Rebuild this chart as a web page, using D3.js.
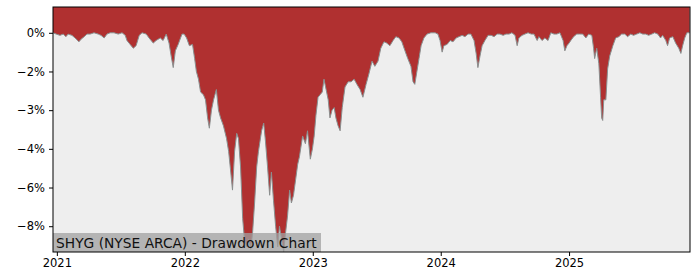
<!DOCTYPE html>
<html>
<head>
<meta charset="utf-8">
<script src="https://cdn.jsdelivr.net/npm/d3@7"></script>
<style>
  body { margin: 0; background: #fff; }
  svg { display: block; }
</style>
</head>
<body>
<svg id="chart"></svg>
<script>
// drawdown readings (date, % below previous high)
const dates = [
  "2020-12-21","2020-12-30","2021-01-10","2021-01-19","2021-01-27","2021-02-02","2021-02-13","2021-02-22",
  "2021-03-05","2021-03-11","2021-03-20","2021-03-28","2021-04-06","2021-04-17","2021-04-29","2021-05-07",
  "2021-05-16","2021-05-24","2021-06-02","2021-06-13","2021-06-25","2021-07-06","2021-07-15","2021-07-20",
  "2021-07-29","2021-08-07","2021-08-15","2021-08-24","2021-09-01","2021-09-13","2021-09-21","2021-10-03",
  "2021-10-11","2021-10-23","2021-10-31","2021-11-09","2021-11-17","2021-11-23","2021-11-29","2021-12-05",
  "2021-12-13","2021-12-24","2021-12-30",
  "2022-01-06","2022-01-14","2022-01-23","2022-01-29","2022-02-03","2022-02-09","2022-02-15","2022-02-23",
  "2022-03-01","2022-03-07","2022-03-12","2022-03-18","2022-03-24","2022-04-01","2022-04-07","2022-04-13",
  "2022-04-21","2022-04-30","2022-05-06","2022-05-12","2022-05-17","2022-05-23","2022-05-29","2022-06-03",
  "2022-06-09","2022-06-15","2022-06-20","2022-06-26","2022-07-02","2022-07-08","2022-07-13","2022-07-19",
  "2022-07-25","2022-07-30","2022-08-08","2022-08-14","2022-08-19","2022-08-25","2022-08-31","2022-09-05",
  "2022-09-11","2022-09-17","2022-09-23","2022-09-28","2022-10-04","2022-10-10","2022-10-15","2022-10-21",
  "2022-10-27","2022-11-01","2022-11-07","2022-11-13","2022-11-19","2022-11-24","2022-12-03","2022-12-11",
  "2022-12-17","2022-12-25","2022-12-31",
  "2023-01-05","2023-01-10","2023-01-16","2023-01-22","2023-01-28","2023-02-02","2023-02-08","2023-02-14",
  "2023-02-19","2023-02-25","2023-03-03","2023-03-08","2023-03-14","2023-03-20","2023-03-26","2023-04-03",
  "2023-04-12","2023-04-20","2023-04-29","2023-05-07","2023-05-16","2023-05-24","2023-06-02","2023-06-10",
  "2023-06-19","2023-06-27","2023-07-06","2023-07-14","2023-07-23","2023-07-31","2023-08-09","2023-08-18",
  "2023-08-26","2023-09-04","2023-09-12","2023-09-21","2023-09-29","2023-10-08","2023-10-14","2023-10-19",
  "2023-10-25","2023-10-31","2023-11-06","2023-11-14","2023-11-23","2023-12-04","2023-12-16","2023-12-24",
  "2023-12-30",
  "2024-01-05","2024-01-10","2024-01-19","2024-01-28","2024-02-05","2024-02-14","2024-02-22","2024-03-02",
  "2024-03-10","2024-03-19","2024-03-27","2024-04-05","2024-04-11","2024-04-16","2024-04-22","2024-04-28",
  "2024-05-06","2024-05-15","2024-05-24","2024-06-01","2024-06-10","2024-06-18","2024-06-27","2024-07-05",
  "2024-07-14","2024-07-22","2024-07-31","2024-08-06","2024-08-11","2024-08-20","2024-08-28","2024-09-06",
  "2024-09-15","2024-09-23","2024-10-02","2024-10-07","2024-10-16","2024-10-24","2024-11-02","2024-11-10",
  "2024-11-19","2024-11-27","2024-12-06","2024-12-15","2024-12-20","2024-12-26",
  "2025-01-01","2025-01-06","2025-01-14","2025-01-23","2025-01-31","2025-02-09","2025-02-18","2025-02-26",
  "2025-03-07","2025-03-12","2025-03-15","2025-03-21","2025-03-27","2025-04-01","2025-04-04","2025-04-07",
  "2025-04-10","2025-04-16","2025-04-21","2025-04-27","2025-05-06","2025-05-14","2025-05-23","2025-05-31",
  "2025-06-09","2025-06-17","2025-06-26","2025-07-04","2025-07-13","2025-07-22","2025-07-30","2025-08-08",
  "2025-08-16","2025-08-25","2025-09-02","2025-09-11","2025-09-19","2025-09-25","2025-10-04","2025-10-09",
  "2025-10-15","2025-10-24","2025-11-01","2025-11-10","2025-11-16","2025-11-21","2025-11-27","2025-12-03",
  "2025-12-11"
];
const drawdown = [
  0.0,-0.05,-0.1,-0.05,-0.15,-0.05,-0.1,-0.2,
  -0.35,-0.25,-0.15,-0.05,-0.05,0.0,-0.05,-0.1,
  -0.2,-0.05,0.0,0.0,-0.05,0.0,-0.1,-0.3,
  -0.45,-0.6,-0.5,-0.1,0.0,-0.05,-0.2,-0.4,
  -0.3,-0.2,-0.3,-0.05,-0.4,-0.9,-1.35,-0.7,
  -0.45,-0.05,-0.05,
  -0.2,-0.5,-0.45,-1.0,-1.5,-1.8,-2.3,-2.4,
  -2.6,-3.3,-3.7,-3.0,-2.6,-2.2,-3.0,-3.3,
  -3.6,-4.1,-4.6,-5.4,-6.1,-4.6,-3.9,-4.1,
  -5.2,-7.2,-8.0,-8.3,-8.0,-8.4,-7.8,-6.6,
  -5.2,-4.6,-3.8,-3.5,-4.2,-5.2,-6.3,-5.4,
  -6.5,-7.5,-8.3,-7.5,-8.0,-8.5,-7.8,-7.1,
  -6.1,-6.6,-6.3,-5.7,-5.1,-4.8,-4.0,-4.3,
  -3.8,-4.9,-4.5,
  -4.0,-3.2,-2.5,-2.4,-2.3,-1.8,-2.2,-2.6,
  -3.3,-3.0,-2.9,-3.3,-3.6,-3.8,-2.9,-2.1,
  -1.9,-1.9,-1.8,-2.0,-2.2,-2.5,-2.0,-1.6,
  -1.1,-1.3,-1.1,-0.6,-0.35,-0.4,-0.5,-0.3,
  -0.15,-0.2,-0.35,-0.7,-1.0,-1.3,-1.9,-2.0,
  -1.5,-1.0,-0.5,-0.2,-0.05,0.0,0.0,-0.05,
  -0.3,
  -0.75,-0.5,-0.45,-0.3,-0.35,-0.2,-0.15,-0.1,
  -0.15,-0.05,-0.05,-0.3,-0.8,-1.35,-0.9,-0.5,
  -0.3,-0.1,-0.1,-0.15,-0.05,-0.05,-0.1,-0.05,
  -0.05,0.0,-0.1,-0.5,-0.2,-0.1,-0.05,0.0,
  -0.05,-0.05,-0.3,-0.15,-0.3,-0.2,-0.3,0.0,
  -0.05,-0.05,0.0,-0.3,-0.7,-0.5,
  -0.4,-0.3,-0.15,-0.05,-0.05,-0.05,-0.2,-0.05,
  -0.1,-0.6,-1.0,-0.6,-1.2,-2.5,-3.3,-3.4,
  -2.6,-2.6,-1.4,-0.9,-0.5,-0.2,-0.15,-0.05,
  -0.05,-0.15,-0.05,-0.1,-0.05,0.0,-0.05,-0.05,
  -0.1,-0.05,0.0,-0.05,-0.2,-0.1,-0.3,-0.5,
  -0.2,-0.15,-0.4,-0.6,-0.8,-0.5,-0.2,0.0,
  0.0
];
const yTicks = [0, -1.5, -3, -4.5, -6, -7.5];
const yTickLabels = ["0%", "\u22122%", "\u22123%", "\u22124%", "\u22126%", "\u22128%"];
const xTicks = ["2021-01-01", "2022-01-01", "2023-01-01", "2024-01-01", "2025-01-01"];
const title = "SHYG (NYSE ARCA) - Drawdown Chart";

const W = 700, H = 280;
const margin = { top: 7, right: 10, bottom: 28, left: 53 };
const width = W - margin.left - margin.right;
const height = H - margin.top - margin.bottom;

const parse = d3.timeParse("%Y-%m-%d");
const data = dates.map((d, i) => ({ date: parse(d), value: drawdown[i] }));

const x = d3.scaleTime()
  .domain([parse("2020-12-21"), parse("2025-12-12")])
  .range([0, width]);
const y = d3.scaleLinear()
  .domain([1.0, -8.5])
  .range([0, height]);

const svg = d3.select("#chart")
  .attr("width", W)
  .attr("height", H);
const g = svg.append("g")
  .attr("transform", `translate(${margin.left},${margin.top})`);

g.append("rect")
  .attr("width", width)
  .attr("height", height)
  .attr("fill", "#eeeeee");

// red area hangs from the top of the plot down to the drawdown
const area = d3.area()
  .x(d => x(d.date))
  .y0(0)
  .y1(d => y(d.value));
g.append("path")
  .datum(data)
  .attr("d", area)
  .attr("fill", "#b03030");

const line = d3.line()
  .x(d => x(d.date))
  .y(d => y(d.value));
g.append("path")
  .datum(data)
  .attr("d", line)
  .attr("fill", "none")
  .attr("stroke", "#8a8f8f")
  .attr("stroke-width", 1);

// label box
const label = g.append("g").attr("transform", `translate(0, ${height - 19})`);
label.append("rect")
  .attr("width", 268)
  .attr("height", 19)
  .attr("fill", "#a0a0a0")
  .attr("opacity", 0.75);
label.append("text")
  .attr("x", 3)
  .attr("y", 14.5)
  .style("font-family", "DejaVu Sans")
  .style("font-size", "13.8px")
  .style("fill", "#111")
  .text(title);

// frame
g.append("rect")
  .attr("width", width)
  .attr("height", height)
  .attr("fill", "none")
  .attr("stroke", "#000")
  .attr("stroke-width", 1);

const yAxis = d3.axisLeft(y)
  .tickValues(yTicks)
  .tickFormat((d, i) => yTickLabels[i])
  .tickSize(4)
  .tickPadding(4);
g.append("g")
  .call(yAxis)
  .call(a => a.select(".domain").remove())
  .selectAll("text")
  .style("font-family", "DejaVu Sans")
  .style("font-size", "11.5px")
  .style("fill", "#000");

const xAxis = d3.axisBottom(x)
  .tickValues(xTicks.map(parse))
  .tickFormat(d3.timeFormat("%Y"))
  .tickSize(4)
  .tickPadding(3);
g.append("g")
  .attr("transform", `translate(0, ${height})`)
  .call(xAxis)
  .call(a => a.select(".domain").remove())
  .selectAll("text")
  .style("font-family", "DejaVu Sans")
  .style("font-size", "11.5px")
  .style("fill", "#000");
</script>
</body>
</html>
